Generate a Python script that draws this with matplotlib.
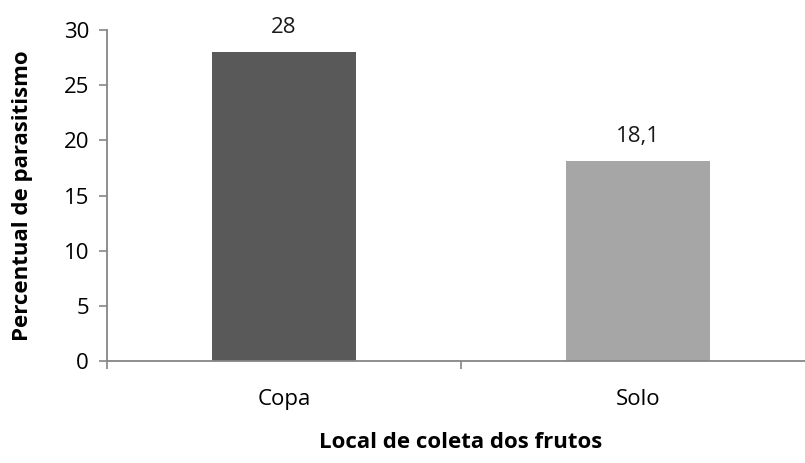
import matplotlib.pyplot as plt
import numpy as np

categorias = ['Copa', 'Solo']
parasitismo = [28, 18.1]
rotulos = ['28', '18,1']
cores = ['#595959', '#A6A6A6']

plt.rcParams['font.family'] = ['Open Sans', 'DejaVu Sans']
fs = 16

fig = plt.figure(figsize=(8.05, 4.63), dpi=100)
ax = fig.add_axes([107 / 805, 1 - 361 / 463, 708 / 805, 331 / 463])

x = np.arange(len(categorias))
barras = ax.bar(x, parasitismo, width=0.404, color=cores)

for b, r in zip(barras, rotulos):
    ax.annotate(r, (b.get_x() + b.get_width() / 2, b.get_height()),
                xytext=(0, 14), textcoords='offset points',
                ha='center', va='baseline', fontsize=fs, color='#1a1a1a')

ax.set_xlim(-0.5, 1.5)
ax.set_ylim(0, 30)
ax.set_yticks(range(0, 31, 5))

# ticks do eixo x ficam entre as categorias
ax.set_xticks(x)
ax.set_xticklabels(categorias)
ax.set_xticks([-0.5, 0.5, 1.5], minor=True)
ax.tick_params(axis='x', which='major', length=0, pad=20, labelsize=fs)
ax.tick_params(axis='x', which='minor', length=5.5, color='#868686', width=1.2)
ax.tick_params(axis='y', length=6, color='#868686', width=1.2, labelsize=fs, pad=7)

for s in ['top', 'right']:
    ax.spines[s].set_visible(False)
for s in ['left', 'bottom']:
    ax.spines[s].set_color('#868686')
    ax.spines[s].set_linewidth(1.3)

ax.set_ylabel('Percentual de parasitismo', fontsize=fs, fontweight='bold')
ax.set_xlabel('Local de coleta dos frutos', fontsize=fs, fontweight='bold')
ax.yaxis.set_label_coords(-0.12, 0.5)
ax.yaxis.label.set_va('center')
ax.xaxis.set_label_coords(0.5, -0.247)
ax.xaxis.label.set_va('center')

fig.savefig('out.png', dpi=100)
